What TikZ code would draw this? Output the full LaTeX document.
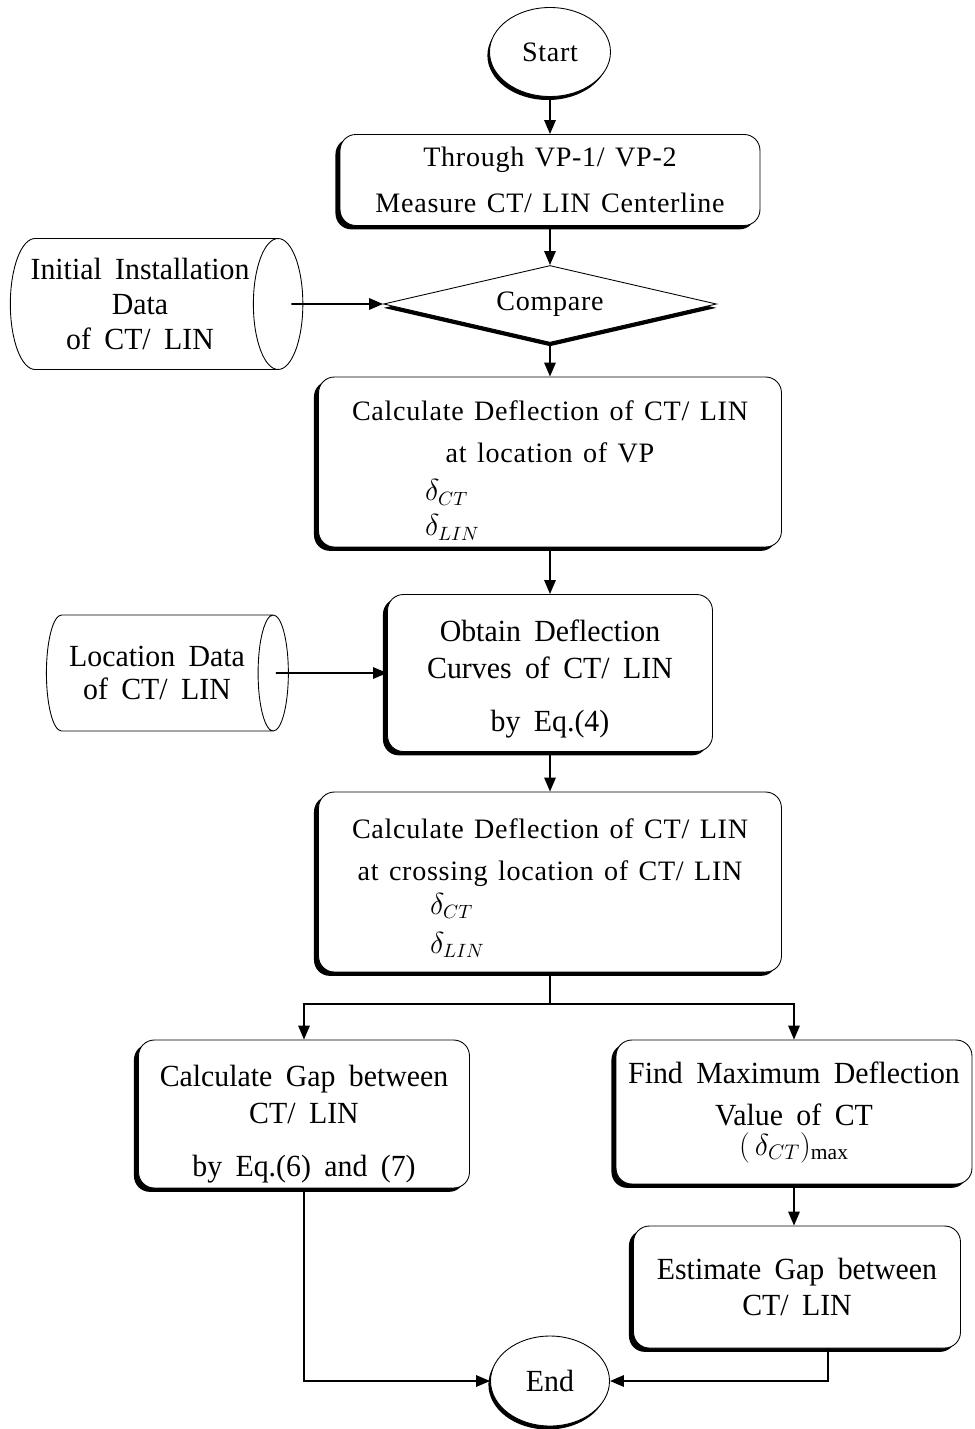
\documentclass[tikz,border=0pt]{standalone}
\usepackage{fontspec}
\setmainfont{Liberation Serif}
\newfontfamily\spacedfont[LetterSpace=2.5,WordSpace=1.35]{Liberation Serif}
\newfontfamily\narrowfont[FakeStretch=0.97,WordSpace=1.8]{Liberation Serif}
\usepackage{tikz}
\usetikzlibrary{positioning,arrows.meta,shapes.geometric,shadows,calc}

% left-set line inside a centred block
\newcommand{\dline}[2]{\makebox[6cm][l]{\hspace*{#1}#2}}
% pushes a block down by raising its first line
\newcommand{\topgap}[1]{\rule{0pt}{#1}}

\begin{document}
\begin{tikzpicture}[
  x=0.02cm, y=-0.02cm,
  line/.style={draw, line width=1.1pt},
  arr/.style={line, -{Triangle[length=8pt,width=6.5pt]}},
  base/.style={draw=black, line width=0.5pt, fill=white, align=center, inner sep=2pt},
  spaced/.style={font=\spacedfont\fontsize{16}{24}\selectfont},
  narrow/.style={font=\narrowfont\fontsize{17.5}{21}\selectfont},
  proc/.style={base, rounded corners=9pt, drop shadow={shadow xshift=-2.6pt, shadow yshift=-2.2pt, fill=black, opacity=1}},
  term/.style={base, ellipse, drop shadow={shadow xshift=-1.2pt, shadow yshift=-2pt, fill=black, opacity=1}},
  decide/.style={base, diamond, shape aspect=4.3, inner sep=0pt, drop shadow={shadow xshift=0pt, shadow yshift=-2.2pt, fill=black, opacity=1}},
  store/.style={base, cylinder, shape border rotate=0, aspect=0.5}
]
\useasboundingbox (0,0) rectangle (974,1429);

% -- main column
\node[term, spaced, minimum width=2.42cm, minimum height=1.78cm] (start) at (550,52) {Start};
\node[proc, spaced, minimum width=8.4cm, minimum height=1.82cm] (through) at (550,180)
  {Through VP-1/ VP-2\\[2.6pt] Measure CT/ LIN Centerline};
\node[decide, spaced, minimum width=6.66cm, minimum height=1.54cm] (compare) at (550,304) {Compare};
\node[proc, spaced, minimum width=9.26cm, minimum height=3.4cm] (defl1) at (550,462)
  {\topgap{21pt}Calculate Deflection of CT/ LIN\\ at location of VP\\[-2.3pt]
   \dline{0.5cm}{$\delta_{CT}$}\\[-4pt] \dline{0.5cm}{$\delta_{LIN}$}};
\node[proc, narrow, minimum width=6.5cm, minimum height=3.14cm] (curves) at (550,673)
  {\topgap{19pt}Obtain Deflection\\ Curves of CT/ LIN\\[9pt] by Eq.(4)};
\node[proc, spaced, minimum width=9.26cm, minimum height=3.6cm] (defl2) at (550,882)
  {\topgap{18pt}Calculate Deflection of CT/ LIN\\ at crossing location of CT/ LIN\\[-4.5pt]
   \dline{0.6cm}{$\delta_{CT}$}\\[-2pt] \dline{0.6cm}{$\delta_{LIN}$}};

% -- data stores (minimum height runs along the axis)
\node[store, narrow, minimum height=5.66cm, minimum width=2.62cm] (init) at (140,304)
  {Initial Installation\\[-1pt] Data\\[-1pt] of CT/ LIN};
\node[store, narrow, minimum height=4.84cm, minimum width=2.32cm] (locdata) at (157,673)
  {Location Data\\[-2.3pt] of CT/ LIN};

% -- two branches
\coordinate (split) at (550,1004);
\node[proc, narrow, minimum width=6.62cm, minimum height=2.96cm] (gapcalc) at (304,1114)
  {\topgap{24pt}Calculate Gap between\\ CT/ LIN\\[9pt] by Eq.(6) and (7)};
\node[proc, narrow, minimum width=7.12cm, minimum height=2.88cm] (maxdefl) at (794,1112)
  {Find Maximum Deflection\\[3pt] Value of CT\\[-4pt] $(\,\delta_{CT})_{\mathrm{max}}$};
\node[proc, narrow, minimum width=6.54cm, minimum height=2.44cm] (estgap) at (797,1287)
  {Estimate Gap between\\ CT/ LIN};
\node[term, narrow, minimum width=2.38cm, minimum height=1.8cm] (end) at (550,1381) {End};

% -- connectors
\draw[arr] (start) -- (through);
\draw[arr] (through) -- (compare);
\draw[arr] ($(init.east)+(-12,0)$) -- (compare.west);
\draw[arr] (compare) -- (defl1);
\draw[arr] (defl1) -- (curves);
\draw[arr] ($(locdata.east)+(-13,0)$) -- (curves.west);
\draw[arr] (curves) -- (defl2);
\draw[line] (defl2) -- (split);
\draw[arr] (split) -| (gapcalc.north);
\draw[arr] (split) -| (maxdefl.north);
\draw[arr] (maxdefl.south) -- (maxdefl.south |- estgap.north);
\draw[arr] (gapcalc.south) |- (end.west);
\draw[arr] ($(estgap.south)+(31,0)$) |- (end.east);

\end{tikzpicture}
\end{document}
